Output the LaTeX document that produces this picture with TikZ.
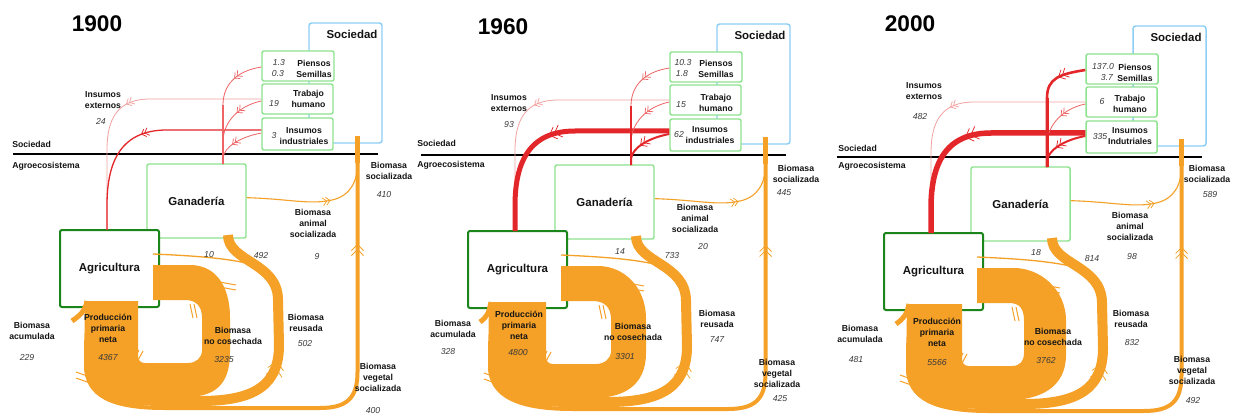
\documentclass[tikz,border=0pt]{standalone}
\usepackage{fontspec}
\setmainfont{Liberation Sans}
\usetikzlibrary{calc}
\definecolor{borange}{HTML}{F5A027}
\definecolor{redA}{HTML}{E3262A}
\definecolor{redB}{HTML}{EE6464}
\definecolor{pinkR}{HTML}{F2A0A0}
\definecolor{lgreen}{HTML}{8EE38E}
\definecolor{dgreen}{HTML}{1B841B}
\definecolor{lblue}{HTML}{8ECFF5}
\definecolor{numcol}{HTML}{3A3A3A}
\definecolor{labcol}{HTML}{141414}
\tikzset{
  lw/.style={line width=#1*0.75pt},
  gbox/.style={draw=lgreen, line width=1.1pt, fill=white, rounded corners=1.5pt, inner sep=0pt},
  abox/.style={draw=dgreen, line width=1.5pt, fill=white, rounded corners=1.5pt, inner sep=0pt},
  socbox/.style={draw=lblue, line width=1.1pt, rounded corners=2pt, inner sep=0pt, minimum width=54.75pt, minimum height=90pt},
  boxtext/.style={font=\bfseries\fontsize{8.6}{10}\selectfont, text=labcol},
  lab/.style={font=\bfseries\fontsize{6.5}{8.25}\selectfont, align=center, inner sep=0pt, text=labcol},
  num/.style={font=\itshape\fontsize{6.5}{8}\selectfont, inner sep=0pt, text=numcol},
  ttl/.style={font=\bfseries\fontsize{17}{20}\selectfont, inner sep=0pt},
  oline/.style={draw=borange, line cap=butt},
  pics/dchev/.style={code={
     \draw[line join=miter] (-3pt,-3pt) -- (0pt,0pt) -- (-3pt,3pt);
     \draw[line join=miter] (-5.5pt,-3pt) -- (-2.5pt,0pt) -- (-5.5pt,3pt);}},
  chv/.style={sloped, allow upside down, line width=0.55pt},
}
\newcommand{\drawpanel}[3]{%
\begin{scope}[shift={(#2,#3)}]
  \node[socbox] (#1soc) at (345.5,83) {};
  \draw[black, line width=1.5pt] (13,154) -- (378,154);
  \coordinate (#1sj) at (357.5,136);
  \coordinate (#1sjm) at (357.5,163);
  \coordinate (#1atop) at (107,230);
  \coordinate (#1gtop) at (223,164);
  \coordinate (#1gv) at (223,\gvy);
  \coordinate (#1gbot) at (228,235);
  \coordinate (#1a10) at (153,254);
  \coordinate (#1r10) at (263,268);
  \node[gbox, minimum width=54pt, minimum height=22.5pt] (#1pien) at (298,66) {};
  \node[gbox, minimum width=53.25pt, minimum height=22.5pt] (#1trab) at (297.5,99) {};
  \node[gbox, minimum width=53.25pt, minimum height=24pt] (#1ind) at (297.5,134) {};
  \node[gbox, boxtext, minimum width=74.25pt, minimum height=55.5pt] (#1gan) at (196.5,201) {Ganadería};
  \node[abox, boxtext, minimum width=74.25pt, minimum height=57.75pt] (#1agri) at (109.5,268.5) {Agricultura};
  \node[boxtext] at (352,34) {Sociedad};
  % red flows
  \draw[color=pinkR, lw=0.8] (#1trab.west) -- (150,99) .. controls (118,99) and (107,118) .. pic[chv, color=pinkR, pos=0.3]{dchev} (107,150) -- (#1atop);
  \draw[color=redA, lw=\wIA] ([yshift=3pt]#1ind.west) -- (167,130) .. controls (122,130) and (107,160) .. pic[chv, color=redA, pos=0.22, scale=\sIA]{dchev} (107,205) -- (#1atop);
  \draw[color=\cPG, lw=\wPG] ([yshift=-0.75pt]#1pien.west) .. controls (236,71) and (223,\gvy-20) .. pic[chv, color=\cPG, pos=0.45, scale=\sPG]{dchev} (#1gv) -- (#1gtop);
  \draw[color=redB, lw=0.8] ([yshift=-1.5pt]#1trab.west) .. controls (238,106) and (224,122) .. pic[chv, color=redB, pos=0.42]{dchev} (223,140) -- (#1gtop);
  \draw[color=\cIG, lw=\wIG] ([yshift=0.75pt]#1ind.west) .. controls (240,137) and (224,147) .. pic[chv, color=\cIG, pos=0.55, scale=\sIG]{dchev} (223,158) -- (#1gtop);
  \draw[color=\cGV, lw=\wGV] (#1gv) -- (#1gtop);
  % orange flows
  \fill[borange] (\ppnL+1,301) -- (\ppnL,365) .. controls (\ppnL,390) and (105,397) .. (150,397) -- (185,397) .. controls (215,397) and (\xo,385) .. (\xo,352) -- (\xo,318) .. controls (\xo,285) and (215,265) .. (190,265) -- (153,265) -- (153,300) -- (185,300) .. controls (196,300) and (\xi,306) .. (\xi,318) -- (\xi,350) .. controls (\xi,358) and (196,363) .. (188,363) -- (145,363) .. controls (140,363) and (138,360) .. (138,355) -- (138,301) -- cycle;
  \draw[oline, lw=4] (\ppnL+2,340) -- (\ppnL+2,365) .. controls (\ppnL+2,396) and (112,408) .. (165,408) -- (320,408) .. controls (347,408) and (357.5,398) .. (357.5,372) -- pic[chv, color=borange, pos=0.61, scale=1.5]{dchev} (#1sjm);
  \draw[oline, lw=5] (#1sjm) -- (#1sj);
  \draw[oline, lw=10] (\ppnL+6,340) -- (\ppnL+6,365) .. controls (\ppnL+6,392) and (112,401) .. (165,401) -- (200,401) .. controls (255,401) and (279,385) .. pic[chv, color=borange, pos=0.85, scale=2]{dchev} (279,345) -- (278,300) .. controls (278,262) and (228,262) .. (#1gbot);
  \draw[oline, lw=1.3] (#1a10) .. controls (200,256) and (240,259) .. (#1r10);
  \draw[oline, lw=1.1] ([yshift=2.5pt]#1gan.east) .. controls (290,199) and (310,205) .. pic[chv, color=borange, pos=0.97]{dchev} (332,200) .. controls (350,196) and (357.5,182) .. (#1sjm);
  \draw[oline, lw=5] (\ppnL+3,301) .. controls (\ppnL+1,312) and (79,316) .. (72,321);
  \draw[borange, lw=1] (76,372) -- (90,377) (76,378) -- (90,383)
     (132,363) -- (139,350) (136,364) -- (143,351)
     (\xi-12,304) -- (\xi-9,318) (\xi-8,304) -- (\xi-5,318)
     (214,281) -- (236,285) (214,286) -- (236,290);
\end{scope}}
\begin{document}
\begin{tikzpicture}[x=0.75pt,y=-0.75pt]
\useasboundingbox (0,0) rectangle (1237,417);
\fill[white] (0,0) rectangle (1237,417);
% panel 1
\def\ppnL{84}\def\xo{230}\def\xi{202}\def\gvy{105}
\def\wIA{1.3}\def\sIA{1}
\def\wPG{0.8}\def\cPG{redB}\def\sPG{1}
\def\wIG{0.8}\def\cIG{redB}\def\sIG{1}
\def\wGV{1.2}\def\cGV{redB}
\drawpanel{A}{0}{0}
% panel 2
\def\ppnL{80}\def\xo{238}\def\xi{203}\def\gvy{105}
\def\wIA{5}\def\sIA{1.6}
\def\wPG{0.8}\def\cPG{redB}\def\sPG{1}
\def\wIG{2}\def\cIG{redA}\def\sIG{1.2}
\def\wGV{2}\def\cGV{redA}
\drawpanel{B}{408}{1}
% panel 3
\def\ppnL{82}\def\xo{242}\def\xi{200}\def\gvy{95}
\def\wIA{5.5}\def\sIA{1.7}
\def\wPG{2.6}\def\cPG{redA}\def\sPG{1.3}
\def\wIG{2}\def\cIG{redA}\def\sIG{1.2}
\def\wGV{3}\def\cGV{redA}
\drawpanel{C}{824}{3}
% ---- labels panel 1
\node[ttl] at (97,23.5) {1900};
\node[num] at (279,63) {1.3}; \node[num] at (278,74) {0.3};
\node[lab] at (314,68.5) {Piensos\\Semillas};
\node[lab] at (308.5,98.5) {Trabajo\\humano}; \node[num] at (274,104) {19};
\node[lab] at (304,136.5) {Insumos\\industriales}; \node[num] at (274,136) {3};
\node[lab] at (103,100.5) {Insumos\\externos}; \node[num] at (101,121) {24};
\node[lab, anchor=west] at (12,144) {Sociedad}; \node[lab, anchor=west] at (12,166) {Agroecosistema};
\node[lab] at (389,170.5) {Biomasa\\socializada}; \node[num] at (384,195) {410};
\node[lab] at (313,223) {Biomasa\\animal\\socializada}; \node[num] at (317,257) {9};
\node[num] at (209,255) {10}; \node[num] at (261,256) {492};
\node[lab] at (306,322.5) {Biomasa\\reusada}; \node[num] at (305,344) {502};
\node[lab] at (233,335.5) {Biomasa\\no cosechada}; \node[num] at (224,360) {3235};
\node[lab] at (108,328) {Producción\\primaria\\neta}; \node[num] at (108,358) {4367};
\node[lab] at (32,330.5) {Biomasa\\acumulada}; \node[num] at (27,358) {229};
\node[lab] at (378,377.5) {Biomasa\\vegetal\\socializada}; \node[num] at (373,411) {400};
% ---- labels panel 2
\node[ttl] at (503,26.5) {1960};
\node[num] at (683,63) {10.3}; \node[num] at (682,74) {1.8};
\node[lab] at (716,68.5) {Piensos\\Semillas};
\node[lab] at (716,102.5) {Trabajo\\humano}; \node[num] at (681,105) {15};
\node[lab] at (710,135.5) {Insumos\\industriales}; \node[num] at (679,135) {62};
\node[lab] at (509,103.5) {Insumos\\externos}; \node[num] at (509,125) {93};
\node[lab, anchor=west] at (417,143) {Sociedad}; \node[lab, anchor=west] at (417,165) {Agroecosistema};
\node[lab] at (796,173.5) {Biomasa\\socializada}; \node[num] at (784,193) {445};
\node[lab] at (695,218) {Biomasa\\animal\\socializada}; \node[num] at (703,247) {20};
\node[num] at (620,252) {14}; \node[num] at (672,256) {733};
\node[lab] at (717,318.5) {Biomasa\\reusada}; \node[num] at (717,340) {747};
\node[lab] at (633,332) {Biomasa\\no cosechada}; \node[num] at (625,357) {3301};
\node[lab] at (519,325) {Producción\\primaria\\neta}; \node[num] at (518,353) {4800};
\node[lab] at (453,328.5) {Biomasa\\acumulada}; \node[num] at (448,352) {328};
\node[lab] at (777,373) {Biomasa\\vegetal\\socializada}; \node[num] at (780,399) {425};
% ---- labels panel 3
\node[ttl] at (910,23.5) {2000};
\node[num] at (1103,67) {137.0}; \node[num] at (1107,78) {3.7};
\node[lab] at (1135,72.5) {Piensos\\Semillas};
\node[lab] at (1130,103.5) {Trabajo\\humano}; \node[num] at (1102,102) {6};
\node[lab] at (1130,136) {Insumos\\Indutriales}; \node[num] at (1100,137) {335};
\node[lab] at (924,91.5) {Insumos\\externos}; \node[num] at (920,117) {482};
\node[lab, anchor=west] at (838,148) {Sociedad}; \node[lab, anchor=west] at (838,166) {Agroecosistema};
\node[lab] at (1207,174) {Biomasa\\socializada}; \node[num] at (1210,195) {589};
\node[lab] at (1130,226) {Biomasa\\animal\\socializada}; \node[num] at (1132,257) {98};
\node[num] at (1036,253) {18}; \node[num] at (1092,259) {814};
\node[lab] at (1131,318.5) {Biomasa\\reusada}; \node[num] at (1132,343) {832};
\node[lab] at (1053,336.5) {Biomasa\\no cosechada}; \node[num] at (1046,361) {3762};
\node[lab] at (937,332) {Producción\\primaria\\neta}; \node[num] at (937,363) {5566};
\node[lab] at (860,333.5) {Biomasa\\acumulada}; \node[num] at (856,360) {481};
\node[lab] at (1192,370) {Biomasa\\vegetal\\socializada}; \node[num] at (1193,401) {492};
\end{tikzpicture}
\end{document}
